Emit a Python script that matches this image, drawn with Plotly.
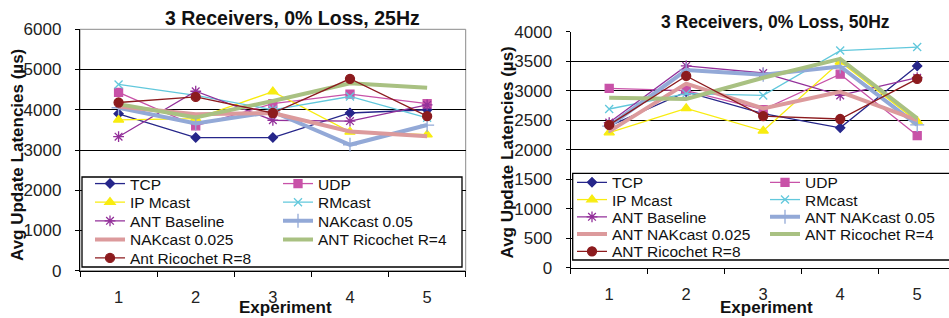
import plotly.graph_objects as go

# ---------------- data ----------------
experiments = [1, 2, 3, 4, 5]
x_tick_labels = ["1", "2", "3", "4", "5"]

names_25 = ["TCP", "UDP", "IP Mcast", "RMcast", "ANT Baseline", "NAKcast 0.05",
            "NAKcast 0.025", "ANT Ricochet R=4", "Ant Ricochet R=8"]
names_50 = ["TCP", "UDP", "IP Mcast", "RMcast", "ANT Baseline", "ANT NAKcast 0.05",
            "ANT NAKcast 0.025", "ANT Ricochet R=4", "ANT Ricochet R=8"]

# 25 Hz (left)
tcp_25 = [3900, 3310, 3310, 3920, 4000]
udp_25 = [4430, 3600, 4150, 4390, 4150]
ipmcast_25 = [3750, 3780, 4450, 3450, 3380]
rmcast_25 = [4630, 4360, 4000, 4330, 3800]
antbase_25 = [3330, 4460, 3740, 3720, 4120]
nak05_25 = [4050, 3660, 3950, 3130, 3620]
nak025_25 = [4080, 3890, 3920, 3460, 3340]
ric4_25 = [4140, 3810, 4220, 4660, 4550]
ric8_25 = [4180, 4320, 3920, 4770, 3840]

# 50 Hz (right)
tcp_50 = [2400, 2980, 2610, 2370, 3420]
udp_50 = [3040, 3000, 2680, 3280, 2240]
ipmcast_50 = [2290, 2700, 2320, 3490, 2480]
rmcast_50 = [2690, 2950, 2920, 3680, 3740]
antbase_50 = [2460, 3420, 3300, 2920, 3220]
nak05_50 = [2400, 3350, 3270, 3410, 2420]
nak025_50 = [2310, 3120, 2700, 2980, 2500]
ric4_50 = [2880, 2860, 3220, 3540, 2530]
ric8_50 = [2420, 3250, 2570, 2520, 3200]

y_ticks_25 = [0, 1000, 2000, 3000, 4000, 5000, 6000]
y_ticks_50 = [0, 500, 1000, 1500, 2000, 2500, 3000, 3500, 4000]

series_25 = [tcp_25, udp_25, ipmcast_25, rmcast_25, antbase_25, nak05_25, nak025_25, ric4_25, ric8_25]
series_50 = [tcp_50, udp_50, ipmcast_50, rmcast_50, antbase_50, nak05_50, nak025_50, ric4_50, ric8_50]

# ---------------- styles ----------------
W, H = 949, 318
FONT = "Arial, Liberation Sans, sans-serif"
styles = [
    dict(color="#26268a", width=1.3, symbol="diamond", size=7, mode="lines+markers"),
    dict(color="#c852a8", width=1.3, symbol="square", size=8, mode="lines+markers"),
    dict(color="#f8ec10", width=1.3, symbol="triangle-up", size=9, mode="lines+markers"),
    dict(color="#62c8dc", width=1.3, symbol="x-thin", size=8, mode="lines+markers"),
    dict(color="#93309a", width=1.3, symbol="asterisk", size=9, mode="lines+markers"),
    dict(color="#93a9d7", width=4, symbol="cross-thin", size=10, mode="lines+markers"),
    dict(color="#dc9a9c", width=4, symbol="circle", size=0, mode="lines"),
    dict(color="#a9c182", width=4, symbol="circle", size=0, mode="lines"),
    dict(color="#8c1b1e", width=1.3, symbol="circle", size=9, mode="lines+markers"),
]
# legend slot (col,row) for each series
slots = [(0, 0), (1, 0), (0, 1), (1, 1), (0, 2), (1, 2), (0, 3), (1, 3), (0, 4)]


def px_x(p):
    return p / W


def px_y(p):
    return 1 - p / H


fig = go.Figure()

panels = [
    dict(series=series_25, names=names_25, xa="x", ya="y", legend_offset=0,
         col_x=[90, 278], row_y=[184, 202.6, 221.2, 239.8, 258.3]),
    dict(series=series_50, names=names_50, xa="x2", ya="y2", legend_offset=9,
         col_x=[572, 765], row_y=[182.7, 200, 217.2, 234.5, 251.7]),
]

layout_legends = {}
for pnl in panels:
    for i, (vals, name) in enumerate(zip(pnl["series"], pnl["names"])):
        st = styles[i]
        lid_num = pnl["legend_offset"] + i + 1
        lid = "legend" if lid_num == 1 else f"legend{lid_num}"
        marker = dict(symbol=st["symbol"], size=st["size"], color=st["color"],
                      line=dict(color=st["color"], width=1.3))
        fig.add_trace(go.Scatter(
            x=experiments, y=vals, name=name, mode=st["mode"],
            line=dict(color=st["color"], width=st["width"]),
            marker=marker, xaxis=pnl["xa"], yaxis=pnl["ya"],
            legend=lid, showlegend=True))
        c, r = slots[i]
        layout_legends[lid] = dict(
            xref="container", yref="container",
            x=px_x(pnl["col_x"][c]), y=px_y(pnl["row_y"][r]),
            xanchor="left", yanchor="middle", bgcolor="rgba(0,0,0,0)",
            borderwidth=0, itemwidth=30, tracegroupgap=0,
            font=dict(family=FONT, size=15.5, color="#111"))

axis_common = dict(showline=True, linecolor="black", linewidth=1.3, zeroline=False,
                   automargin=False)
xaxis_common = dict(
    axis_common, tickmode="array", tickvals=experiments, ticktext=x_tick_labels, ticks="",
    showgrid=False, tickfont=dict(family=FONT, size=16.5, color="#222"),
    ticklabelstandoff=11,
    minor=dict(tickmode="array", tickvals=[0.5, 1.5, 2.5, 3.5, 4.5, 5.5],
               ticks="outside", ticklen=5, tickcolor="black", tickwidth=1.3, showgrid=False))
yaxis_common = dict(
    axis_common, tickmode="array", ticks="outside", ticklen=4, tickcolor="black",
    showgrid=True, gridcolor="black", gridwidth=1.2,
    tickfont=dict(family=FONT, size=17, color="#222"), ticklabelstandoff=10)

fig.update_layout(
    width=W, height=H, margin=dict(l=0, r=0, t=0, b=0, autoexpand=False),
    paper_bgcolor="white", plot_bgcolor="white",
    xaxis=dict(xaxis_common, domain=[px_x(80), px_x(465.7)], range=[0.5, 5.5], anchor="y"),
    yaxis=dict(yaxis_common, domain=[px_y(270.7), px_y(29.3)], range=[0, 6000],
               tickvals=y_ticks_25, anchor="x"),
    xaxis2=dict(xaxis_common, domain=[px_x(570.7), 1.0], range=[0.5, 0.5 + (W - 570.7) / 77],
                anchor="y2"),
    yaxis2=dict(yaxis_common, domain=[px_y(267.7), px_y(31.7)], range=[0, 4000],
                tickvals=y_ticks_50, anchor="x2"),
    **layout_legends,
)

# plot-area frames and legend boxes
fig.add_shape(type="rect", xref="x domain", yref="y domain", x0=0, x1=1, y0=0, y1=1,
              line=dict(color="#8a8a8a", width=1), layer="below")
fig.add_shape(type="rect", xref="paper", yref="paper",
              x0=px_x(82), x1=px_x(462), y0=px_y(267), y1=px_y(177),
              line=dict(color="black", width=1.3), fillcolor="white", layer="above")
fig.add_shape(type="rect", xref="paper", yref="paper",
              x0=px_x(572.7), x1=1.02, y0=px_y(260), y1=px_y(173.3),
              line=dict(color="black", width=1.3), fillcolor="white", layer="above")

# titles
texts = [
    ("<b>3 Receivers, 0% Loss, 25Hz</b>", 292, 18, 19.5, 0),
    ("<b>3 Receivers, 0% Loss, 50Hz</b>", 775, 22, 17.5, 0),
    ("<b>Avg Update Latencies (µs)</b>", 17, 155, 17, -90),
    ("<b>Avg Update Latencies (µs)</b>", 507, 152.5, 17, -90),
    ("<b>Experiment</b>", 285, 307, 17, 0),
    ("<b>Experiment</b>", 766, 307, 17, 0),
]
for t, x, y, s, ang in texts:
    fig.add_annotation(text=t, xref="paper", yref="paper", x=px_x(x), y=px_y(y),
                       xanchor="center", yanchor="middle", showarrow=False, textangle=ang,
                       font=dict(family=FONT, size=s, color="#111"))

fig.write_html("out.html", config={"displayModeBar": False},
               post_script="document.body.style.margin='0';document.body.style.overflow='hidden';")
